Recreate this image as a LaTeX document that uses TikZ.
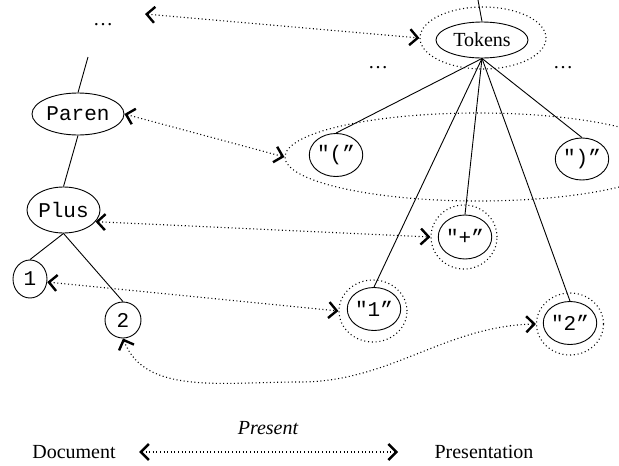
\documentclass[tikz,border=0pt]{standalone}
\usepackage{fontspec}
\setmainfont{Liberation Serif}
\setmonofont{Liberation Mono}
\usetikzlibrary{shapes.geometric,arrows.meta}

\tikzset{
  barb/.tip={Straight Barb[length=8pt,width=16pt,line width=2.4pt]},
  txt/.style={font=\fontsize{20}{24}\selectfont},
  bubble/.style={draw, ellipse, line width=0.9pt, inner sep=0pt, txt},
  ttbubble/.style={bubble, font=\fontsize{21}{24}\selectfont\ttfamily},
  ring/.style={draw, ellipse, line width=1.1pt, dash pattern=on 1pt off 2.8pt, inner sep=0pt},
  link/.style={line width=0.9pt},
  corr/.style={line width=1.1pt, dash pattern=on 1pt off 2.6pt, barb-barb},
}

\begin{document}
\begin{tikzpicture}[x=1pt,y=-1pt]
\useasboundingbox (0,0) rectangle (619,466);
\clip (0,0) rectangle (619,466);

% document tree (left)
\node[txt] (dotsL) at (103,25) {\dots};
\coordinate (treeup) at (88,57);
\coordinate (docup) at (145,14);
\node[ttbubble, minimum width=92pt, minimum height=42pt] (paren) at (78,114) {Paren};
\node[ttbubble, minimum width=73pt, minimum height=46pt] (plus) at (63.5,210) {Plus};
\node[ttbubble, minimum width=34pt, minimum height=38pt] (one) at (30,279) {1};
\node[ttbubble, minimum width=36pt, minimum height=36pt] (two) at (123,320) {2};

\draw[link] (treeup) -- (paren.north);
\draw[link] (paren.south) -- (plus.north);
\draw[link] (plus.south) -- (one.north);
\draw[link] (plus.south) -- (two.north);

% presentation tokens (right)
\coordinate (tokup) at (478,0);
\node[bubble, minimum width=92pt, minimum height=36pt] (tokens) at (482,40) {Tokens};
\node[ring, minimum width=126pt, minimum height=62pt] (tokring) at (483,38) {};
\node[txt] (dotsA) at (378,68) {\dots};
\node[txt] (dotsB) at (563,68) {\dots};

\node[ring, minimum width=386pt, minimum height=88pt] (bigring) at (478,157) {};
\node[ttbubble, minimum width=44pt, minimum height=43pt] (lp) at (336,155) {"(”};
\node[ttbubble, minimum width=42pt, minimum height=42pt] (rp) at (582,159) {")”};

\node[ttbubble, minimum width=44pt, minimum height=44pt] (plustok) at (465,237) {"+”};
\node[ring, minimum width=66pt, minimum height=64pt] (plusring) at (464,237) {};
\node[ttbubble, minimum width=44pt, minimum height=43pt] (onetok) at (374,309) {"1”};
\node[ring, minimum width=68pt, minimum height=62pt] (onering) at (373,311) {};
\node[ttbubble, minimum width=44pt, minimum height=43pt] (twotok) at (570,323) {"2”};
\node[ring, minimum width=67pt, minimum height=62pt] (tworing) at (570,324) {};

\draw[link] (tokup) -- (tokens.north);
\foreach \c in {lp,rp,plustok,onetok,twotok}
  \draw[link] (tokens.south) -- (\c.north);

% correspondences
\draw[corr] (docup) -- (tokring.west);
\draw[corr] (paren.east) -- (bigring.west);
\draw[corr] (plus.-20) -- (plusring.west);
\draw[corr] (one.-10) -- (onering.west);
\draw[corr] (two.south) .. controls (145,395) and (220,382) .. (300,382)
                        .. controls (390,382) and (445,326) .. (tworing.west);

% legend
\node[txt] (doc) at (74,452) {Document};
\node[txt] (pres) at (484,452) {Presentation};
\node[txt, font=\fontsize{20}{24}\selectfont\itshape] (present) at (268,428) {Present};
\draw[corr, shorten <=20pt, shorten >=33pt] (doc.east) -- (pres.west);
\end{tikzpicture}
\end{document}
